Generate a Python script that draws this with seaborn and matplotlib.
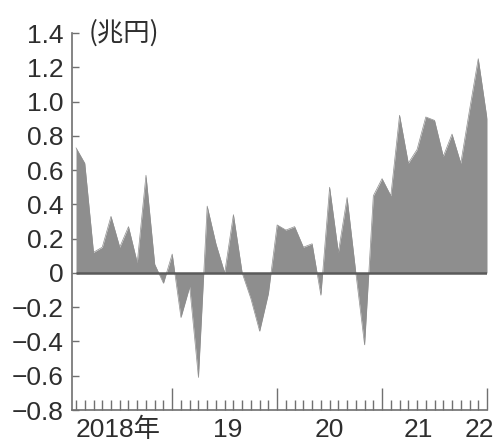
import numpy as np
import pandas as pd
import seaborn as sns
import matplotlib.pyplot as plt
from matplotlib.ticker import FixedLocator

sns.set_theme(style="white")
plt.rcParams['font.family'] = ['Liberation Sans', 'Noto Sans CJK JP', 'DejaVu Sans']

# monthly values, Feb 2018 .. Jan 2022 (trillion yen)
months = pd.date_range("2018-02-01", periods=48, freq="MS")
values = [0.73, 0.64, 0.12, 0.15, 0.33, 0.15, 0.27, 0.06, 0.57, 0.05,
          -0.06, 0.11, -0.26, -0.08, -0.61, 0.39, 0.17, 0.00, 0.34, 0.00,
          -0.15, -0.34, -0.12, 0.28, 0.25, 0.27, 0.15, 0.17, -0.13, 0.50,
          0.12, 0.44, 0.00, -0.42, 0.45, 0.55, 0.45, 0.92, 0.64, 0.72,
          0.91, 0.89, 0.68, 0.81, 0.64, 0.95, 1.25, 0.90]
y_ticks = [-0.8, -0.6, -0.4, -0.2, 0, 0.2, 0.4, 0.6, 0.8, 1.0, 1.2, 1.4]
y_tick_labels = ["\u22120.8", "\u22120.6", "\u22120.4", "\u22120.2", "0",
                 "0.2", "0.4", "0.6", "0.8", "1.0", "1.2", "1.4"]
year_labels = ["2018年", "19", "20", "21", "22"]
year_label_pos = [4.8, 17.3, 29.0, 39.2, 46.1]
unit_label = "(兆円)"

df = pd.DataFrame({"i": np.arange(len(values)), "value": values, "month": months})

fill = "#8e8e8e"
axis_col = "#707070"
text_col = "#2e2e2e"

fig = plt.figure(figsize=(5.01, 4.45), dpi=100)
ax = fig.add_axes([72/501, 1 - 410/445, (487 - 72)/501, (410 - 33)/445])

ax.fill_between(df["i"], df["value"], 0, color=fill, linewidth=0)
sns.lineplot(data=df, x="i", y="value", ax=ax, color=fill, linewidth=0.5)
ax.hlines(0, df["i"].iloc[0], df["i"].iloc[-1], color="#5a5a5a", linewidth=1.8)

ax.set_xlim(-0.46, 47)
ax.set_ylim(-0.8, 1.4)
ax.set_xlabel("")
ax.set_ylabel("")

ax.set_yticks(y_ticks)
ax.set_yticklabels(y_tick_labels)

jan = df.loc[df["month"].dt.month == 1, "i"].tolist()
other = df.loc[df["month"].dt.month != 1, "i"].tolist()
ax.xaxis.set_major_locator(FixedLocator(jan))
ax.xaxis.set_minor_locator(FixedLocator(other))

for s in ["top", "right"]:
    ax.spines[s].set_visible(False)
for s in ["left", "bottom"]:
    ax.spines[s].set_color(axis_col)
    ax.spines[s].set_linewidth(1.2)

ax.tick_params(axis="y", direction="in", length=5, width=1, color=axis_col,
               labelsize=19, labelcolor=text_col, pad=6, left=True)
ax.tick_params(axis="x", which="major", direction="in", length=16, width=1,
               color=axis_col, labelbottom=False, bottom=True)
ax.tick_params(axis="x", which="minor", direction="in", length=7, width=1,
               color=axis_col, bottom=True)

for lab, pos in zip(year_labels, year_label_pos):
    ax.text(pos, -0.02, lab, transform=ax.get_xaxis_transform(),
            ha="center", va="top", fontsize=19, color=text_col)

ax.text(0.04, 1.0, unit_label, transform=ax.transAxes, ha="left",
        va="center", fontsize=19, color=text_col,
        family=['Noto Sans CJK JP', 'DejaVu Sans'])

fig.savefig("out.png", dpi=100)
